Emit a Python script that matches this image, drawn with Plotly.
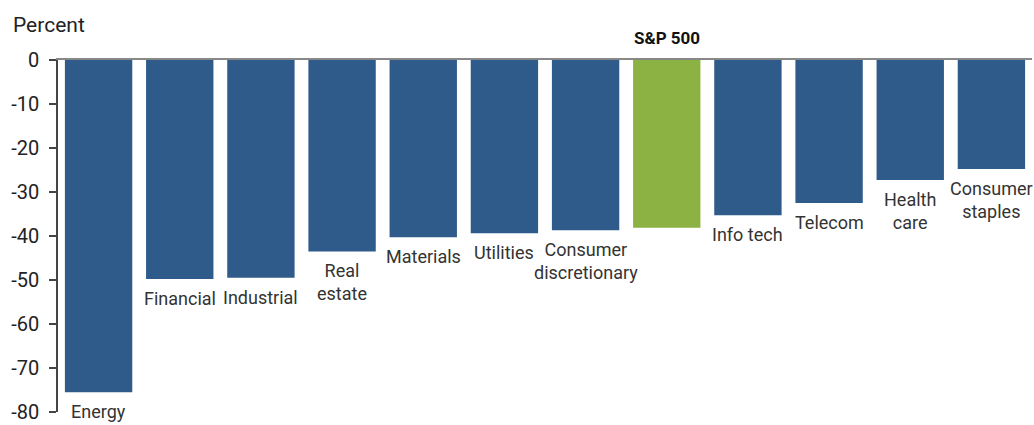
import plotly.graph_objects as go

categories = ["Energy", "Financial", "Industrial", "Real estate", "Materials", "Utilities",
              "Consumer discretionary", "S&P 500", "Info tech", "Telecom", "Health care",
              "Consumer staples"]
values = [-75.5, -49.8, -49.5, -43.5, -40.3, -39.4, -38.7, -38.1, -35.3, -32.5, -27.3, -24.8]
bar_labels = ["Energy", "Financial", "Industrial", "Real<br>estate", "Materials", "Utilities",
              "Consumer<br>discretionary", "", "Info tech", "Telecom", "Health<br>care",
              "Consumer<br>staples"]
highlight = "S&P 500"
y_ticks = [0, -10, -20, -30, -40, -50, -60, -70, -80]

BLUE = "#2E5B8A"
GREEN = "#8DB244"
colors = [GREEN if c == highlight else BLUE for c in categories]

fig = go.Figure()
fig.add_trace(go.Bar(x=categories, y=values, marker=dict(color=colors, line=dict(width=0)),
                     width=0.83, hoverinfo="x+y"))

annotations = []
for c, v, lab in zip(categories, values, bar_labels):
    if lab:
        annotations.append(dict(x=c, y=v, xref="x", yref="y", text=lab, showarrow=False,
                                yanchor="top", yshift=-7,
                                font=dict(family="Roboto", size=18, color="#333333")))
annotations.append(dict(x=highlight, y=1, xref="x", yref="paper",
                        text="<b>S&P 500</b>", showarrow=False, yanchor="bottom", yshift=10,
                        font=dict(family="Roboto", size=17, color="#111111")))
annotations.append(dict(x=0, y=1, xref="paper", yref="paper", text="Percent", showarrow=False,
                        xanchor="left", yanchor="bottom", xshift=-47, yshift=21,
                        font=dict(family="Roboto", size=21, color="#222222")))

fig.update_layout(
    width=1034, height=425,
    margin=dict(l=58, r=2, t=60, b=13),
    paper_bgcolor="white", plot_bgcolor="white",
    showlegend=False,
    annotations=annotations,
    bargap=0.17,
    xaxis=dict(type="category", categoryorder="array", categoryarray=categories,
               range=[-0.5, 11.5], side="top", showticklabels=False, showgrid=False,
               showline=True, linecolor="#888888", linewidth=1.5, ticks="", zeroline=False),
    yaxis=dict(range=[-80, 0], tickvals=y_ticks, ticktext=[str(t) for t in y_ticks],
               showgrid=False, zeroline=False, showline=True, linecolor="#444444",
               linewidth=1.5, ticks="outside", ticklen=7, tickcolor="#444444", tickwidth=1.5,
               ticklabelstandoff=6, automargin=False,
               tickfont=dict(family="Roboto", size=20, color="#222222")),
)

fig.write_html("out.html", config={"displayModeBar": False},
               post_script="document.body.style.margin='0';")
